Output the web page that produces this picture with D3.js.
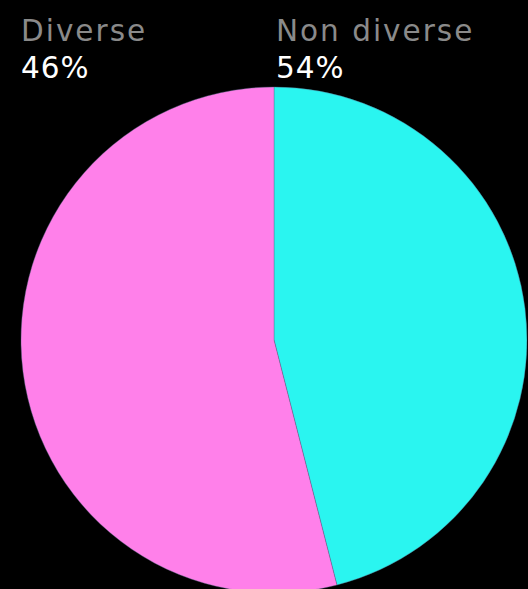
<!DOCTYPE html>
<html>
<head>
<meta charset="utf-8">
<script src="https://cdn.jsdelivr.net/npm/d3@7"></script>
<style>
  html, body { margin: 0; padding: 0; background: #000; }
  svg { display: block; }
  .name { font-family: "DejaVu Sans", sans-serif; font-size: 29.5px; fill: #8a8a8a; letter-spacing: 2px; }
  .pct  { font-family: "DejaVu Sans", sans-serif; font-size: 29.5px; fill: #ffffff; letter-spacing: 1px; }
</style>
</head>
<body>
<script>
// Share of diverse vs. non-diverse, in percent
const categories = ["Diverse", "Non diverse"];
const shares = [46, 54];
const sliceColors = ["#2af5f0", "#ff80ea"];

const W = 528, H = 589;
const cx = 274, cy = 340, radius = 253;

const svg = d3.select("body").append("svg")
  .attr("width", W).attr("height", H);

const data = categories.map((c, i) => ({ name: c, value: shares[i] }));

const pie = d3.pie().sort(null).value(d => d.value);
const arc = d3.arc().innerRadius(0).outerRadius(radius);
const color = d3.scaleOrdinal().domain(categories).range(sliceColors);

svg.append("g")
  .attr("transform", `translate(${cx},${cy})`)
  .selectAll("path")
  .data(pie(data))
  .join("path")
  .attr("d", arc)
  .attr("fill", d => color(d.data.name))
  .attr("stroke", "#5a6a8a")
  .attr("stroke-width", 0.4);

// Headline labels across the top
const labelX = [21, 276];
const labels = svg.append("g");
data.forEach((d, i) => {
  labels.append("text").attr("class", "name")
    .attr("x", labelX[i]).attr("y", 41).text(d.name);
  labels.append("text").attr("class", "pct")
    .attr("x", labelX[i]).attr("y", 78).text(d.value + "%");
});
</script>
</body>
</html>
